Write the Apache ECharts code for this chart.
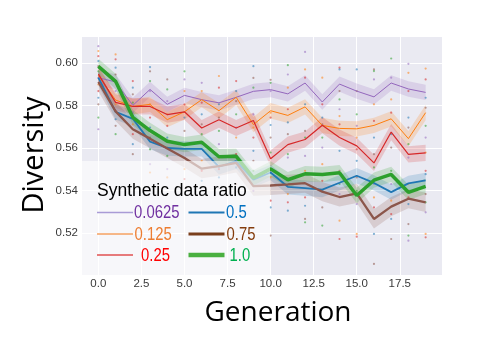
<!DOCTYPE html>
<html>
<head>
<meta charset="utf-8">
<script src="https://cdn.jsdelivr.net/npm/echarts@6/dist/echarts.min.js"></script>
<style>html,body{margin:0;padding:0;background:#fff}#c{width:488px;height:353px}</style>
</head>
<body>
<div id="c"></div>
<script>
const generations = [0,1,2,3,4,5,6,7,8,9,10,11,12,13,14,15,16,17,18,19];
const ratioNames = ['0.0625','0.125','0.25','0.5','0.75','1.0'];
const xTicks = [0,2.5,5,7.5,10,12.5,15,17.5];
const yTicks = [0.52,0.54,0.56,0.58,0.60];

// mean diversity per generation for each synthetic data ratio
const div0625 = [0.593,0.591,0.580,0.5875,0.5805,0.5847,0.5827,0.5812,0.5838,0.5866,0.5874,0.5854,0.5905,0.5816,0.590,0.5867,0.584,0.5905,0.5877,0.5861];
const div0125 = [0.594,0.5825,0.5795,0.5805,0.5733,0.577,0.5827,0.5775,0.5838,0.571,0.5775,0.5753,0.5793,0.5706,0.5692,0.569,0.5706,0.5737,0.5644,0.5766];
const div025  = [0.5947,0.5814,0.5795,0.5795,0.5757,0.577,0.5694,0.5733,0.5694,0.5729,0.555,0.5616,0.564,0.5707,0.5649,0.561,0.553,0.5675,0.557,0.5577];
const div05   = [0.593,0.577,0.5737,0.563,0.560,0.5596,0.5596,0.5512,0.5538,0.5452,0.5485,0.5418,0.5412,0.5405,0.5437,0.547,0.5436,0.5393,0.5434,0.5448];
const div075  = [0.591,0.5772,0.5688,0.5644,0.5598,0.5553,0.5503,0.5515,0.553,0.5421,0.5424,0.5429,0.5435,0.5395,0.537,0.5387,0.5267,0.5325,0.5362,0.5345];
const div10   = [0.5983,0.5913,0.5744,0.5682,0.5632,0.5616,0.5627,0.5559,0.5561,0.546,0.5502,0.5451,0.5479,0.5476,0.5484,0.5377,0.5449,0.5476,0.5392,0.542];
const ciHalf  = [0.0036,0.0036,0.0038,0.0036,0.0045,0.0036];

// individual run values (faint dots), one list per generation
const runDots = [
  [0.6078,0.6055,0.6031,0.6008,0.5984,0.596,0.5929,0.5898,0.5867,0.5836,0.5805,0.5743,0.5688],
  [0.6039,0.6016,0.5977,0.5945,0.5914,0.5867,0.5805,0.5774,0.5735,0.5704,0.5665],
  [0.5914,0.5883,0.5852,0.5813,0.5766,0.5711,0.5665,0.5618,0.5571],
  [0.598,0.596,0.5914,0.5867,0.5805,0.5743,0.5696,0.5649,0.5594,0.5524,0.5485],
  [0.5922,0.5875,0.582,0.5758,0.5704,0.5649,0.5602,0.5563,0.5501,0.5462],
  [0.596,0.5922,0.5867,0.5805,0.5743,0.568,0.5618,0.5555,0.5501,0.5454],
  [0.5906,0.5867,0.5813,0.5758,0.5711,0.5665,0.5618,0.554,0.5493,0.5446],
  [0.5938,0.5883,0.5805,0.5743,0.568,0.5618,0.5555,0.5501,0.5462],
  [0.5914,0.5867,0.582,0.5758,0.5696,0.5649,0.5571,0.5509,0.5431],
  [0.5984,0.5929,0.5883,0.5758,0.5696,0.5649,0.5587,0.554,0.5493,0.5399],
  [0.592,0.5906,0.5867,0.5766,0.5743,0.5708,0.5649,0.5579,0.5493,0.5462,0.5353,0.5321,0.5189],
  [0.5989,0.5945,0.5883,0.5782,0.572,0.5665,0.5571,0.5555,0.5384,0.5345,0.5306],
  [0.6051,0.5969,0.593,0.5805,0.568,0.5649,0.5563,0.5493,0.5368,0.5329,0.5267,0.5251],
  [0.593,0.5805,0.5743,0.5711,0.5649,0.5602,0.5524,0.5446,0.5399,0.5321,0.5236],
  [0.5977,0.5969,0.5867,0.5828,0.5782,0.575,0.5711,0.5587,0.5493,0.5431,0.5384,0.5259,0.5173],
  [0.5969,0.5867,0.5758,0.5704,0.5649,0.5594,0.554,0.5462,0.5399,0.5337,0.5197,0.5184],
  [0.5969,0.5961,0.5922,0.5805,0.5727,0.5649,0.5571,0.5509,0.5431,0.5368,0.5321,0.5197,0.5056],
  [0.602,0.593,0.5828,0.5766,0.5665,0.5602,0.5493,0.5431,0.5353,0.529,0.5267,0.5173],
  [0.5995,0.5953,0.5867,0.5743,0.5696,0.5618,0.5555,0.5431,0.5368,0.5337,0.5243,0.5189,0.5165],
  [0.5973,0.5922,0.5836,0.5789,0.5704,0.5649,0.5579,0.5493,0.5477,0.5384,0.5345,0.5298,0.5197,0.5181]
];

const lineColors = ['#9467bd','#ff7f0e','#d62728','#1f77b4','#8c564b','#2ca02c'];
const lineWidths = [1,1,1.2,1.8,2.3,3.5];
const legendLineWidths = [1.5,1.5,1.5,2,3,4.5];
const legendLineColors = ['#a99bd6','#f4a060','#e05050','#1f77b4','#7a3f1c','#4ab040'];
const textColors = ['#7030A0','#ED7D31','#FF0000','#0070C0','#843C0C','#00B050'];

const allMeans = [div0625,div0125,div025,div05,div075,div10];

const chart = echarts.init(document.getElementById('c'));
const series = [];

// dots
const dotData = [];
runDots.forEach((vals, g) => vals.forEach((v, k) => dotData.push({ value: [generations[g], v], itemStyle: { color: lineColors[(k + g) % 6] } })));
series.push({ type: 'scatter', name: 'runs', z: 1, silent: true, symbolSize: 2.2, data: dotData, itemStyle: { opacity: 0.55 } });

allMeans.forEach((m, i) => {
  const upper = m.map(v => v + ciHalf[i]);
  const lower = m.map(v => v - ciHalf[i]);
  series.push({
    type: 'custom', name: 'band' + i, z: 1, silent: true,
    data: generations.map((g, k) => [g, m[k]]),
    renderItem: function (params, api) {
      if (params.dataIndex !== 0) return;
      const pts = [];
      generations.forEach((g, k) => pts.push(api.coord([g, upper[k]])));
      for (let k = generations.length - 1; k >= 0; k--) pts.push(api.coord([generations[k], lower[k]]));
      return { type: 'polygon', shape: { points: pts }, style: { fill: lineColors[i], opacity: 0.2 } };
    }
  });
});
allMeans.forEach((m, i) => {
  series.push({
    type: 'line', name: ratioNames[i], z: 2, symbol: 'none',
    data: generations.map((g, k) => [g, m[k]]),
    lineStyle: { color: lineColors[i], width: lineWidths[i] },
    itemStyle: { color: lineColors[i] }
  });
});

// hand-placed legend (as in the reference)
const sansFont = '"Liberation Sans",Arial,sans-serif';
const legendRowsY = [212.5, 234, 255];
const legendCols = [{ x: 97, idx: [0,1,2], textX: [134, 134.5, 141] }, { x: 188.5, idx: [3,4,5], textX: [226, 226.5, 229.5] }];
const legendGraphics = [];
legendCols.forEach(col => {
  col.idx.forEach((i, r) => {
    legendGraphics.push({ type: 'line', z: 10, silent: true, shape: { x1: col.x, y1: legendRowsY[r], x2: col.x + 36, y2: legendRowsY[r] },
      style: { stroke: legendLineColors[i], lineWidth: legendLineWidths[i] } });
    legendGraphics.push({ type: 'text', z: 10, silent: true, x: col.textX[r], y: legendRowsY[r] + 1, scaleX: 0.85,
      style: { text: ratioNames[i], fill: textColors[i], fontSize: 17.5, fontFamily: sansFont, align: 'left', verticalAlign: 'middle' } });
  });
});

chart.setOption({
  animation: false,
  grid: { left: 82, right: 46, top: 37, bottom: 78, show: true, backgroundColor: '#eaeaf2', borderWidth: 0 },
  xAxis: {
    type: 'value', min: -0.95, max: 19.95,
    axisLine: { show: false }, axisTick: { show: false, customValues: xTicks },
    splitLine: { show: true, lineStyle: { color: '#ffffff', width: 1 } },
    axisLabel: { customValues: xTicks, formatter: v => v.toFixed(1), color: '#3a3a3a', fontSize: 11.5, margin: 3, fontFamily: sansFont }
  },
  yAxis: {
    type: 'value', min: 0.5004, max: 0.6121,
    axisLine: { show: false }, axisTick: { show: false, customValues: yTicks },
    splitLine: { show: true, lineStyle: { color: '#ffffff', width: 1 } },
    axisLabel: { customValues: yTicks, formatter: v => v.toFixed(2), color: '#3a3a3a', fontSize: 11.5, margin: 4, fontFamily: sansFont }
  },
  graphic: [
    { type: 'rect', z: 3, silent: true, shape: { x: 82, y: 161, width: 188, height: 114 }, style: { fill: 'rgba(255,255,255,0.6)' } },
    { type: 'text', z: 10, left: 97, top: 182, style: { text: 'Synthetic data ratio', fill: '#000', fontSize: 17.5, fontFamily: sansFont } },
    { type: 'text', z: 10, x: 35, y: 155, rotation: Math.PI / 2, style: { text: 'Diversity', fill: '#000', fontSize: 29, fontFamily: '"Open Sans",sans-serif', align: 'center', verticalAlign: 'middle' } },
    { type: 'text', z: 10, x: 278, y: 313, style: { text: 'Generation', fill: '#000', fontSize: 28, fontFamily: '"Open Sans",sans-serif', align: 'center', verticalAlign: 'middle' } }
  ].concat(legendGraphics),
  series: series
});
</script>
</body>
</html>
